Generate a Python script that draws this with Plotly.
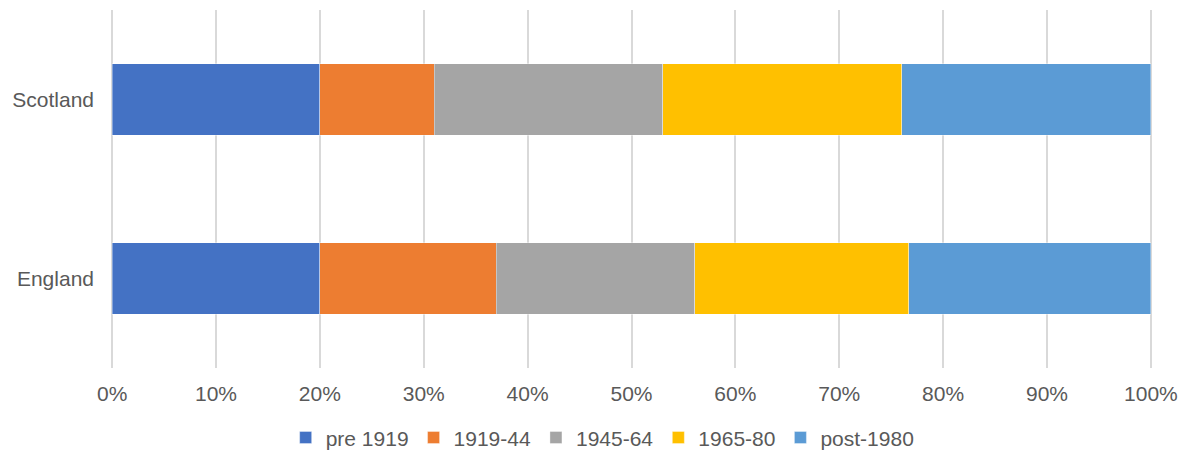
import plotly.graph_objects as go

regions = ["England", "Scotland"]
series = ["pre 1919", "1919-44", "1945-64", "1965-80", "post-1980"]
england = [20.0, 17.0, 19.1, 20.6, 23.3]
scotland = [20.0, 11.0, 22.0, 23.0, 24.0]
colors = ["#4472C4", "#ED7D31", "#A5A5A5", "#FFC000", "#5B9BD5"]
tick_vals = [0, 10, 20, 30, 40, 50, 60, 70, 80, 90, 100]
tick_text = [f"{v}%" for v in tick_vals]

fig = go.Figure()
for i, name in enumerate(series):
    fig.add_trace(go.Bar(
        y=regions,
        x=[england[i], scotland[i]],
        name=name,
        orientation="h",
        marker=dict(color=colors[i], line=dict(width=0.6, color="rgba(255,255,255,0.6)")),
        width=0.4,
    ))

fig.update_layout(
    barmode="stack",
    width=1184, height=450,
    margin=dict(l=109, r=30, t=10, b=82, autoexpand=False),
    paper_bgcolor="white",
    plot_bgcolor="white",
    font=dict(family="Liberation Sans, Arial, sans-serif", size=21, color="#595959"),
    xaxis=dict(
        range=[-0.3, 100.3],
        tickvals=tick_vals,
        ticktext=tick_text,
        showgrid=True,
        gridcolor="#D9D9D9",
        gridwidth=1.5,
        zeroline=False,
        showline=False,
        ticks="",
        ticklabelstandoff=11,
        tickfont=dict(size=21, color="#595959"),
    ),
    yaxis=dict(
        showgrid=False,
        zeroline=False,
        showline=False,
        ticks="",
        ticklabelstandoff=14,
        tickfont=dict(size=21, color="#595959"),
    ),
    legend=dict(
        orientation="h",
        xref="container", yref="container",
        x=0.509, xanchor="center",
        y=0.027, yanchor="middle",
        font=dict(size=21, color="#595959"),
        traceorder="normal",
        itemwidth=30,
    ),
    bargap=0.6,
)

fig.write_html("out.html")
